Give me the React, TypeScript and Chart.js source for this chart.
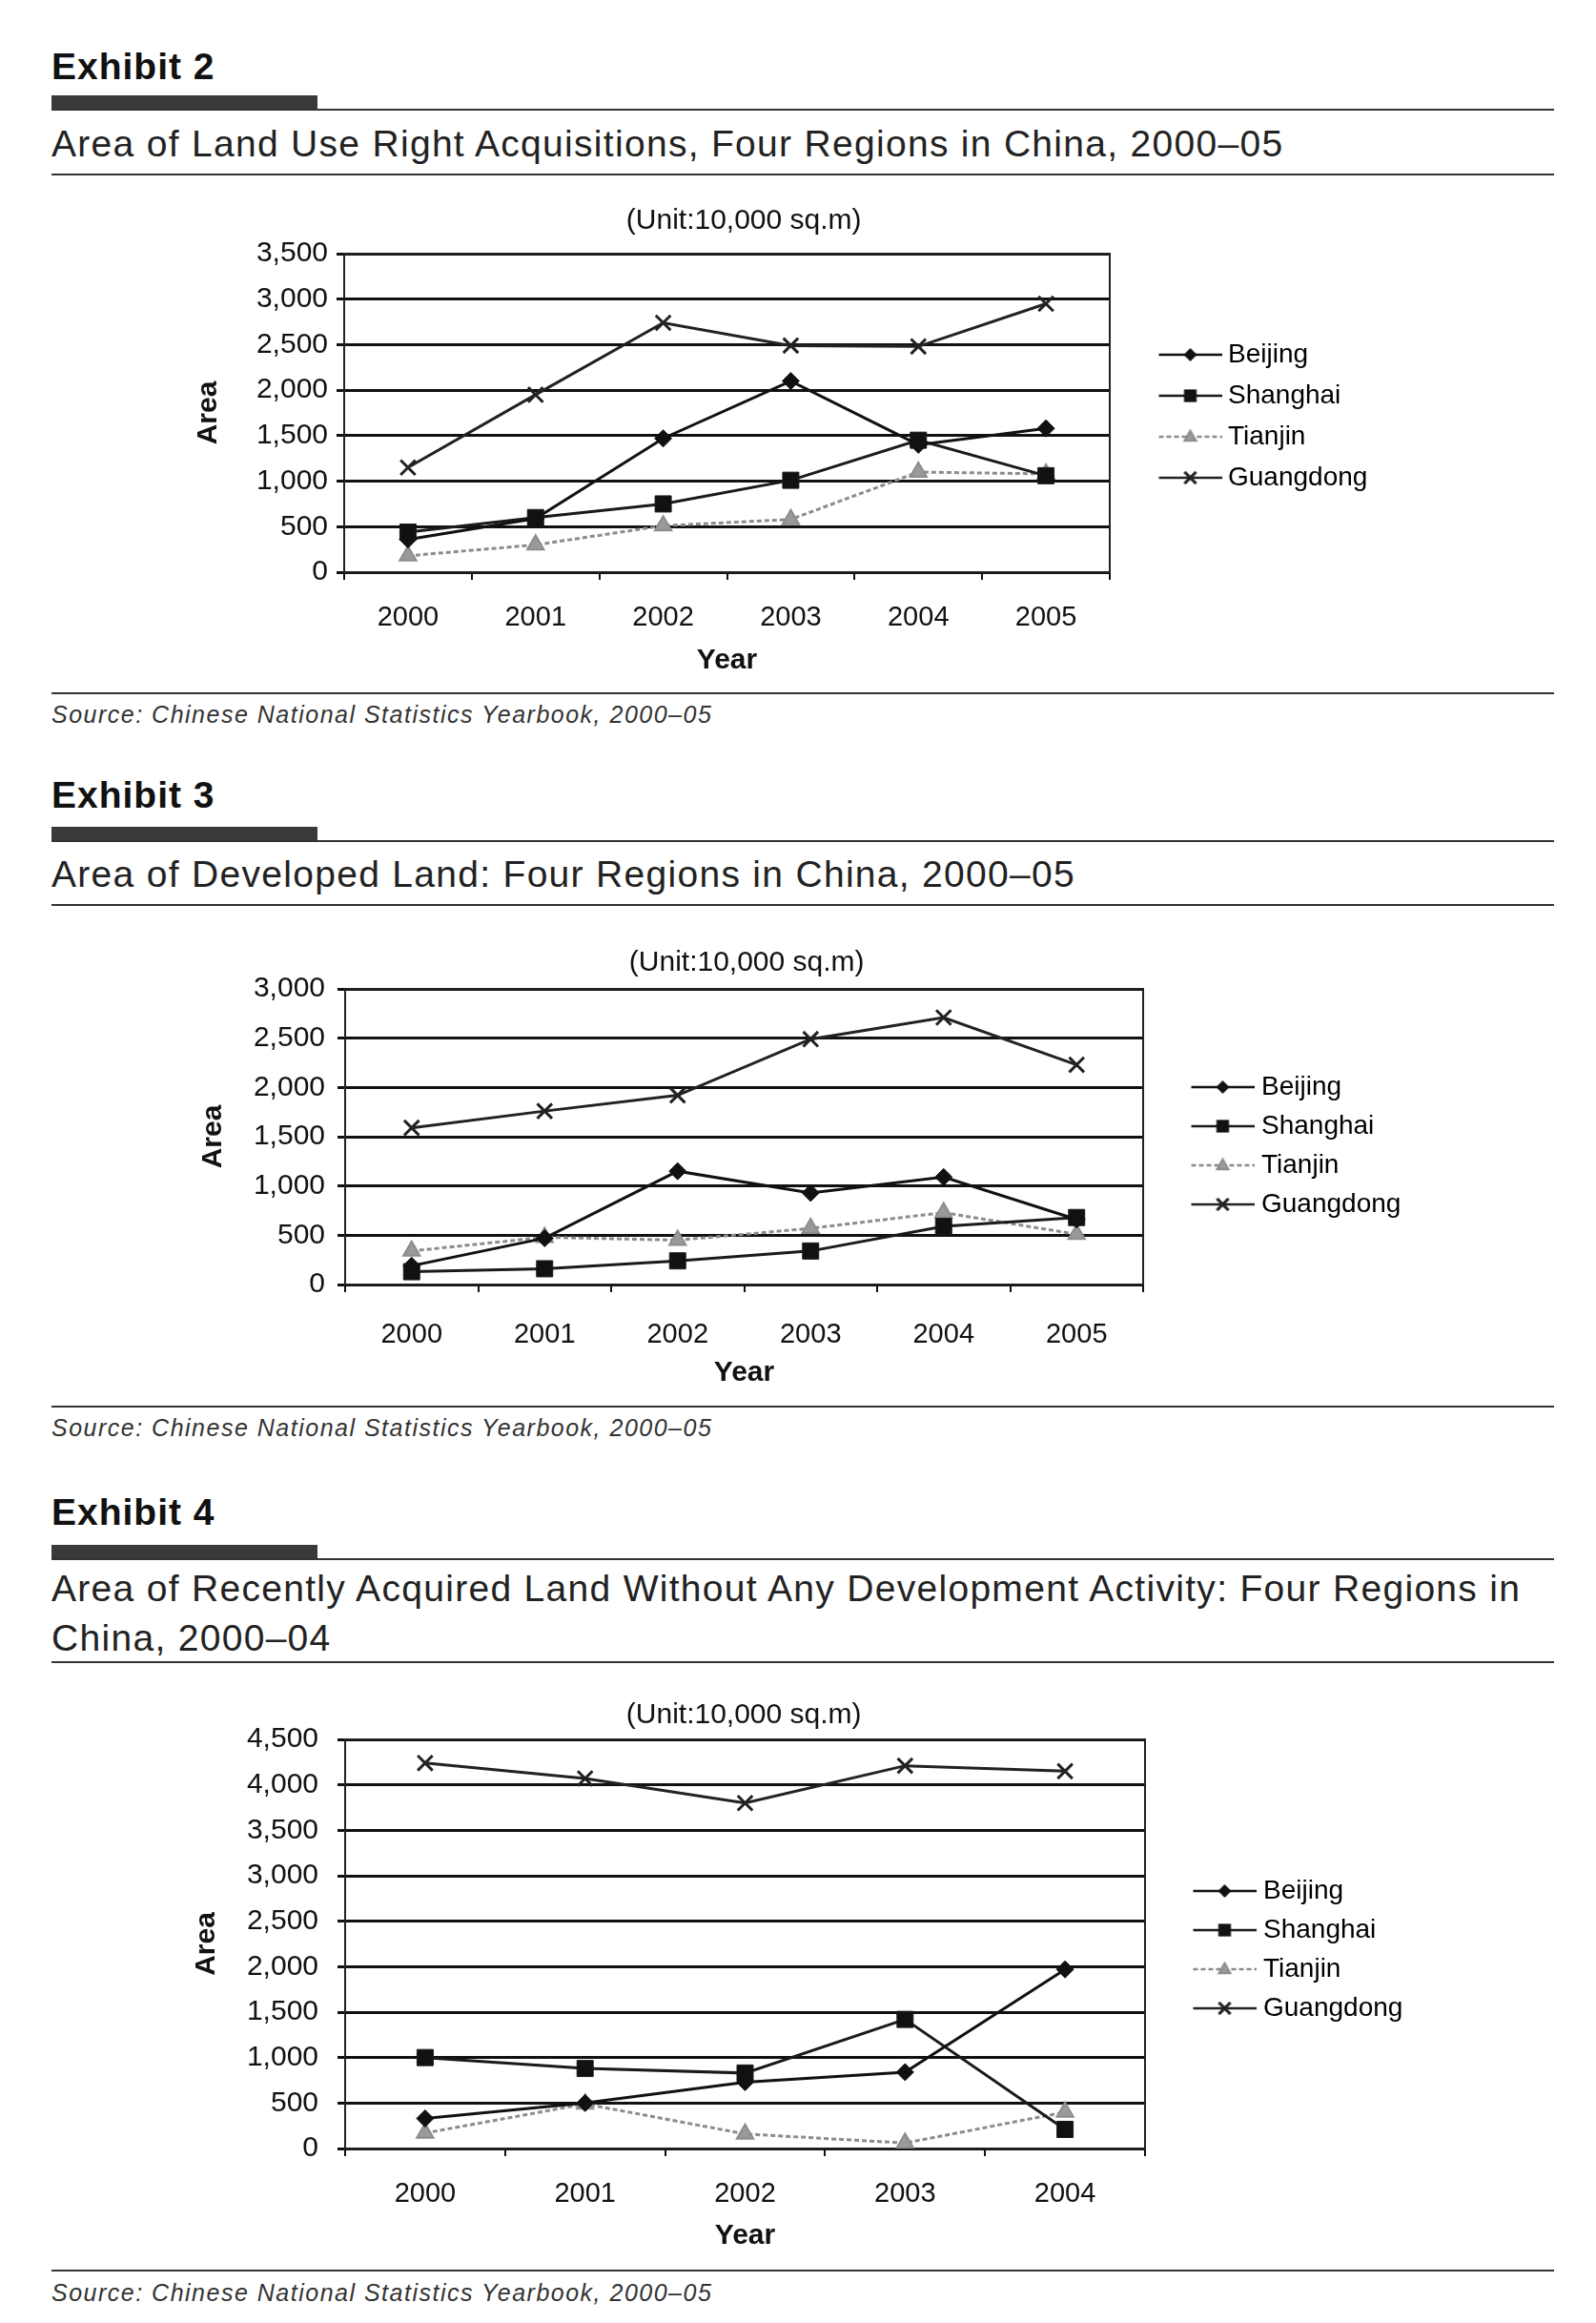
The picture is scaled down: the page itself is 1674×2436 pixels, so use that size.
import React, { useEffect, useRef } from 'react';
import { Chart, registerables } from 'chart.js';

Chart.register(...registerables);

// ---------------- data ----------------
const SERIES = ['Beijing', 'Shanghai', 'Tianjin', 'Guangdong'];

const years2000to05 = ['2000', '2001', '2002', '2003', '2004', '2005'];
const years2000to04 = ['2000', '2001', '2002', '2003', '2004'];

// Exhibit 2: Area of land use right acquisitions
const ex2Beijing = [360, 590, 1470, 2100, 1400, 1580];
const ex2Shanghai = [440, 600, 750, 1010, 1450, 1060];
const ex2Tianjin = [180, 300, 510, 580, 1100, 1080];
const ex2Guangdong = [1150, 1950, 2740, 2490, 2480, 2950];

// Exhibit 3: Area of developed land
const ex3Beijing = [190, 470, 1150, 930, 1090, 660];
const ex3Shanghai = [130, 160, 240, 340, 590, 680];
const ex3Tianjin = [340, 480, 450, 570, 730, 510];
const ex3Guangdong = [1590, 1760, 1920, 2490, 2710, 2230];

// Exhibit 4: Recently acquired land without development activity
const ex4Beijing = [330, 500, 730, 840, 1970];
const ex4Shanghai = [1000, 880, 830, 1420, 210];
const ex4Tianjin = [170, 490, 160, 60, 400];
const ex4Guangdong = [4240, 4070, 3800, 4210, 4150];

const yTicksStep = 500;
const ex2YMax = 3500;
const ex3YMax = 3000;
const ex4YMax = 4500;

const UNIT_TEXT = '(Unit:10,000 sq.m)';
const X_TITLE = 'Year';
const Y_TITLE = 'Area';
const SOURCE_TEXT = 'Source: Chinese National Statistics Yearbook, 2000\u201305';

// ---------------- styles ----------------
type Marker = 'rectRot' | 'rect' | 'triangle' | 'crossRot';
type SeriesStyle = { color: string; fill: string; dash: number[]; marker: Marker; radius: number; pbw: number };
const STYLES: SeriesStyle[] = [
  { color: '#111', fill: '#111', dash: [], marker: 'rectRot', radius: 9, pbw: 1 },
  { color: '#1a1a1a', fill: '#111', dash: [], marker: 'rect', radius: 12, pbw: 1 },
  { color: '#8c8c8c', fill: '#9a9a9a', dash: [5, 3], marker: 'triangle', radius: 10, pbw: 2 },
  { color: '#222', fill: '#222', dash: [], marker: 'crossRot', radius: 11, pbw: 3 },
];

const FONT = "'Liberation Sans', Arial, Helvetica, sans-serif";
Chart.defaults.font.family = FONT;

const LEGEND_FONT_SIZE = 28;
const LEGEND_TEXT_OFFSET = 124; // from legend box left to text start

function drawMarker(ctx: CanvasRenderingContext2D, st: SeriesStyle, x: number, y: number) {
  const r = st.radius * 0.78;
  ctx.save();
  ctx.setLineDash([]);
  ctx.fillStyle = st.fill;
  ctx.strokeStyle = st.color;
  ctx.lineWidth = st.pbw;
  ctx.beginPath();
  if (st.marker === 'rectRot') {
    ctx.moveTo(x - r, y); ctx.lineTo(x, y - r); ctx.lineTo(x + r, y); ctx.lineTo(x, y + r); ctx.closePath();
    ctx.fill();
  } else if (st.marker === 'rect') {
    const s = r * Math.SQRT1_2;
    ctx.rect(x - s, y - s, 2 * s, 2 * s);
    ctx.fill();
  } else if (st.marker === 'triangle') {
    const h = r * 1.2;
    ctx.moveTo(x, y - h * 0.7); ctx.lineTo(x + h * 0.65, y + h * 0.45); ctx.lineTo(x - h * 0.65, y + h * 0.45); ctx.closePath();
    ctx.fill(); ctx.stroke();
  } else {
    const d = r * Math.SQRT1_2;
    ctx.moveTo(x - d, y - d); ctx.lineTo(x + d, y + d);
    ctx.moveTo(x + d, y - d); ctx.lineTo(x - d, y + d);
    ctx.stroke();
  }
  ctx.restore();
}

function makeLegendIcon(st: SeriesStyle): HTMLCanvasElement {
  const c = document.createElement('canvas');
  c.width = 110;
  c.height = 30;
  const ctx = c.getContext('2d')!;
  ctx.strokeStyle = st.color;
  ctx.lineWidth = 2.5;
  ctx.setLineDash(st.dash);
  ctx.beginPath();
  ctx.moveTo(44, 15);
  ctx.lineTo(110, 15);
  ctx.stroke();
  drawMarker(ctx, st, 77, 15);
  return c;
}

function legendWidth(): number {
  const c = document.createElement('canvas');
  const ctx = c.getContext('2d')!;
  ctx.font = `normal ${LEGEND_FONT_SIZE}px ${FONT}`;
  const w = Math.max(...SERIES.map((s) => ctx.measureText(s).width));
  return LEGEND_TEXT_OFFSET + w + 10;
}

const framePlugin = {
  id: 'plotFrame',
  beforeDatasetsDraw(chart: any) {
    const { ctx, chartArea: a } = chart;
    ctx.save();
    ctx.strokeStyle = '#222';
    ctx.lineWidth = 2;
    ctx.strokeRect(a.left, a.top, a.right - a.left, a.bottom - a.top);
    ctx.restore();
  },
};

type ChartCfg = {
  left: number; top: number; height: number;
  plotLeft: number; plotRight: number;
  labels: string[];
  values: number[][];
  yMax: number;
  titlePad: { top: number; bottom: number };
  yTickPad: number; yTitleCenter: number;
  xHeight: number; xTickPad: number; xTitlePad: number;
  legendPad: number;
};

function LineChart({ cfg }: { cfg: ChartCfg }) {
  const ref = useRef<HTMLCanvasElement>(null);
  const width = cfg.plotRight - cfg.left + 300;
  useEffect(() => {
    const canvas = ref.current!;
    const icons = STYLES.map(makeLegendIcon);
    const lw = legendWidth();
    const padRight = Math.max(0, width - (cfg.plotRight - cfg.left) - lw);
    const yWidth = cfg.plotLeft - cfg.left;
    const datasets = cfg.values.map((vals, i) => {
      const st = STYLES[i];
      return {
        label: SERIES[i],
        data: vals,
        borderColor: st.color,
        backgroundColor: st.fill,
        borderWidth: 3,
        borderDash: st.dash,
        pointStyle: st.marker,
        pointRadius: st.radius,
        pointBorderWidth: st.pbw,
        pointBorderColor: st.color,
        pointBackgroundColor: st.fill,
        tension: 0,
        fill: false,
      };
    });
    const chart = new Chart(canvas, {
      type: 'line',
      data: { labels: cfg.labels, datasets },
      plugins: [framePlugin],
      options: {
        responsive: false,
        animation: false,
        devicePixelRatio: 1,
        layout: { padding: { left: 0, right: padRight, top: 0, bottom: 0 } },
        plugins: {
          tooltip: { enabled: false },
          title: {
            display: true,
            text: UNIT_TEXT,
            color: '#111',
            font: { size: 30, weight: 'normal', family: FONT },
            padding: cfg.titlePad,
            fullSize: true,
          },
          legend: {
            display: true,
            position: 'right',
            labels: {
              usePointStyle: true,
              pointStyleWidth: LEGEND_TEXT_OFFSET - cfg.legendPad - LEGEND_FONT_SIZE / 2,
              padding: cfg.legendPad,
              color: '#111',
              font: { size: LEGEND_FONT_SIZE, family: FONT },
              generateLabels: (ch: any) =>
                ch.data.datasets.map((ds: any, i: number) => ({
                  text: ds.label,
                  pointStyle: icons[i],
                  fillStyle: STYLES[i].fill,
                  strokeStyle: STYLES[i].color,
                  lineWidth: 0,
                  hidden: false,
                  datasetIndex: i,
                })),
            },
          },
        },
        scales: {
          x: {
            type: 'category',
            offset: true,
            grid: { display: true, drawOnChartArea: false, drawTicks: true, tickLength: 8, offset: true, color: '#111', lineWidth: 2 },
            border: { display: true, color: '#111', width: 2 },
            ticks: { color: '#111', font: { size: 29, family: FONT }, padding: cfg.xTickPad, maxRotation: 0, autoSkip: false },
            title: {
              display: true,
              text: X_TITLE,
              color: '#111',
              font: { size: 30, weight: 'bold', family: FONT },
              padding: { top: 0, bottom: cfg.xTitlePad },
            },
            afterFit: (s: any) => { s.height = cfg.xHeight; },
          },
          y: {
            min: 0,
            max: cfg.yMax,
            grid: { color: '#111', lineWidth: 3, tickLength: 8, drawTicks: true },
            border: { display: true, color: '#111', width: 2 },
            ticks: {
              stepSize: yTicksStep,
              color: '#111',
              font: { size: 30, family: FONT },
              padding: cfg.yTickPad,
              callback: (v: any) => Number(v).toLocaleString('en-US'),
            },
            title: {
              display: true,
              text: Y_TITLE,
              color: '#111',
              font: { size: 30, weight: 'bold', family: FONT },
              padding: { top: cfg.yTitleCenter - cfg.left - 18, bottom: 0 },
            },
            afterFit: (s: any) => { s.width = yWidth; },
          },
        },
      } as any,
    });
    return () => chart.destroy();
  }, [cfg, width]);
  return (
    <canvas
      ref={ref}
      width={width}
      height={cfg.height}
      style={{ position: 'absolute', left: cfg.left, top: cfg.top, width, height: cfg.height }}
    />
  );
}

const chart2Cfg: ChartCfg = {
  left: 116, top: 162, height: 549,
  plotLeft: 361, plotRight: 1164,
  labels: years2000to05,
  values: [ex2Beijing, ex2Shanghai, ex2Tianjin, ex2Guangdong],
  yMax: ex2YMax,
  titlePad: { top: 52, bottom: 16 },
  yTickPad: 9, yTitleCenter: 219,
  xHeight: 111, xTickPad: 23, xTitlePad: 0,
  legendPad: 15,
};

const chart3Cfg: ChartCfg = {
  left: 87, top: 945, height: 513,
  plotLeft: 362, plotRight: 1199,
  labels: years2000to05,
  values: [ex3Beijing, ex3Shanghai, ex3Tianjin, ex3Guangdong],
  yMax: ex3YMax,
  titlePad: { top: 47, bottom: 9 },
  yTickPad: 13, yTitleCenter: 224,
  xHeight: 111, xTickPad: 28, xTitlePad: 0,
  legendPad: 13,
};

const chart4Cfg: ChartCfg = {
  left: 79, top: 1726, height: 637,
  plotLeft: 362, plotRight: 1201,
  labels: years2000to04,
  values: [ex4Beijing, ex4Shanghai, ex4Tianjin, ex4Guangdong],
  yMax: ex4YMax,
  titlePad: { top: 55, bottom: 7 },
  yTickPad: 20, yTitleCenter: 217,
  xHeight: 110, xTickPad: 23, xTitlePad: 0,
  legendPad: 13,
};

// ---------------- page pieces ----------------
const abs = (left: number, top: number): React.CSSProperties => ({ position: 'absolute', left, top });

function Rule({ top }: { top: number }) {
  return <div style={{ ...abs(54, top), width: 1576, height: 2, background: '#333' }} />;
}

function ExhibitHeader({ label, labelTop, barTop, ruleTop }: { label: string; labelTop: number; barTop: number; ruleTop: number }) {
  return (
    <>
      <div style={{ ...abs(54, labelTop), fontSize: 39, lineHeight: '39px', fontWeight: 'bold', letterSpacing: 1, color: '#111', whiteSpace: 'nowrap' }}>{label}</div>
      <div style={{ ...abs(54, barTop), width: 279, height: 15, background: '#3a3a3a' }} />
      <Rule top={ruleTop} />
    </>
  );
}

function Subtitle({ top, lines }: { top: number; lines: string[] }) {
  return (
    <div style={{ ...abs(54, top), fontSize: 39, lineHeight: '52px', letterSpacing: 1.3, color: '#222', whiteSpace: 'nowrap' }}>
      {lines.map((l, i) => (
        <div key={i}>{l}</div>
      ))}
    </div>
  );
}

function Source({ ruleTop, textTop }: { ruleTop: number; textTop: number }) {
  return (
    <>
      <Rule top={ruleTop} />
      <div style={{ ...abs(54, textTop), fontSize: 25, lineHeight: '25px', fontStyle: 'italic', letterSpacing: 1.5, color: '#333', whiteSpace: 'nowrap' }}>{SOURCE_TEXT}</div>
    </>
  );
}

export default function App() {
  return (
    <div style={{ position: 'absolute', left: 0, top: 0, width: 1674, height: 2436, background: '#fff', fontFamily: FONT, overflow: 'hidden' }}>
      <ExhibitHeader label="Exhibit 2" labelTop={50} barTop={100} ruleTop={114} />
      <Subtitle top={125} lines={['Area of Land Use Right Acquisitions, Four Regions in China, 2000\u201305']} />
      <Rule top={182} />
      <LineChart cfg={chart2Cfg} />
      <Source ruleTop={726} textTop={737} />

      <ExhibitHeader label="Exhibit 3" labelTop={814} barTop={867} ruleTop={881} />
      <Subtitle top={891} lines={['Area of Developed Land: Four Regions in China, 2000\u201305']} />
      <Rule top={948} />
      <LineChart cfg={chart3Cfg} />
      <Source ruleTop={1474} textTop={1485} />

      <ExhibitHeader label="Exhibit 4" labelTop={1566} barTop={1620} ruleTop={1634} />
      <Subtitle
        top={1640}
        lines={['Area of Recently Acquired Land Without Any Development Activity: Four Regions in', 'China, 2000\u201304']}
      />
      <Rule top={1742} />
      <LineChart cfg={chart4Cfg} />
      <Source ruleTop={2380} textTop={2392} />
    </div>
  );
}
